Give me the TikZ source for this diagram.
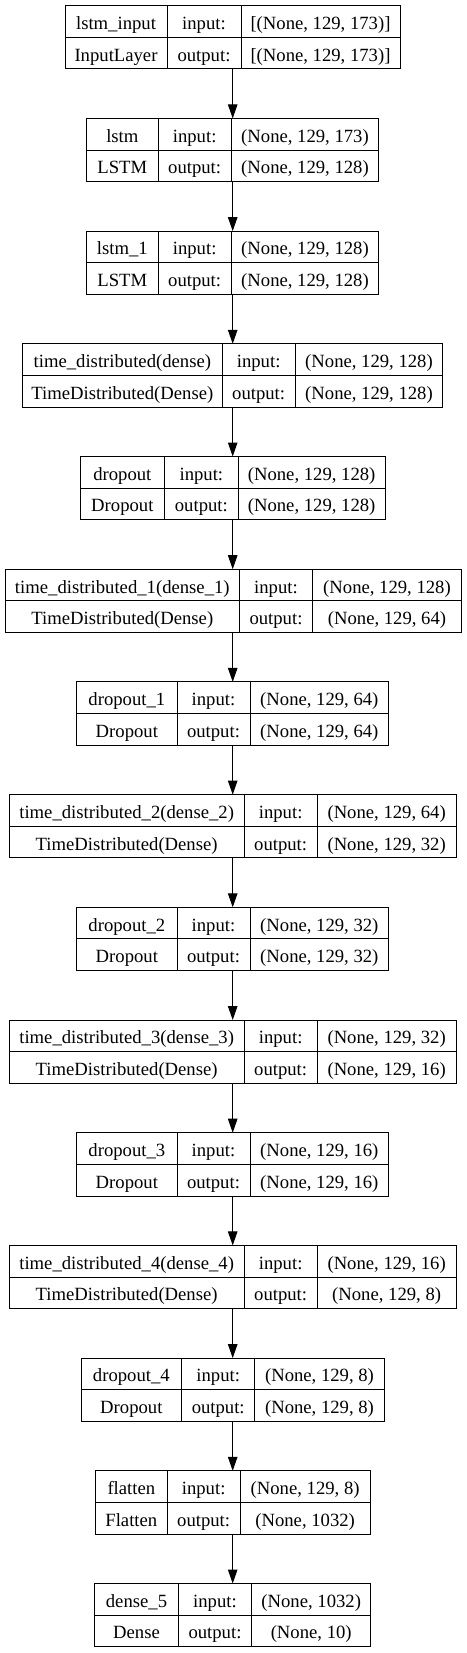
\documentclass[tikz,border=0pt]{standalone}
\usepackage{fontspec}
\setmainfont{Liberation Serif}
\usetikzlibrary{positioning, arrows.meta}

\begin{document}
\begin{tikzpicture}[
  x=1pt, y=-1pt,
  every node/.style={font=\fontsize{18.67}{22}\selectfont},
  cell/.style={draw, line width=1pt, inner sep=0pt, outer sep=0pt, minimum height=31.65pt, text height=16pt, text depth=0pt},
  whole/.style={inner sep=0pt, outer sep=0pt, minimum height=63.3pt},
  arr/.style={-{Triangle[length=14pt, width=9.5pt]}, line width=1pt}
]
\useasboundingbox (0,0) rectangle (466,1653);

% Layer boxes
\foreach \xa/\xb/\xc/\xd/\lname/\lclass/\sin/\sout [count=\i from 0] in {
  65/167/241/400/lstm\_input/InputLayer/{[(None, 129, 173)]}/{[(None, 129, 173)]},
  86.7/158/231.3/378.7/lstm/LSTM/{(None, 129, 173)}/{(None, 129, 128)},
  86.7/158/231.3/378.7/lstm\_1/LSTM/{(None, 129, 128)}/{(None, 129, 128)},
  22.7/222/295.3/442.7/time\_distributed(dense)/TimeDistributed(Dense)/{(None, 129, 128)}/{(None, 129, 128)},
  80/164.7/238/385.3/dropout/Dropout/{(None, 129, 128)}/{(None, 129, 128)},
  5.3/239.3/312.7/461.3/time\_distributed\_1(dense\_1)/TimeDistributed(Dense)/{(None, 129, 128)}/{(None, 129, 64)},
  76.7/177/250/388.7/dropout\_1/Dropout/{(None, 129, 64)}/{(None, 129, 64)},
  9.3/244/317.3/456/time\_distributed\_2(dense\_2)/TimeDistributed(Dense)/{(None, 129, 64)}/{(None, 129, 32)},
  76.7/177/250/388.7/dropout\_2/Dropout/{(None, 129, 32)}/{(None, 129, 32)},
  9.3/244/317.3/456/time\_distributed\_3(dense\_3)/TimeDistributed(Dense)/{(None, 129, 32)}/{(None, 129, 16)},
  76.7/177/250/388.7/dropout\_3/Dropout/{(None, 129, 16)}/{(None, 129, 16)},
  9.3/244/317.3/456/time\_distributed\_4(dense\_4)/TimeDistributed(Dense)/{(None, 129, 16)}/{(None, 129, 8)},
  81/181.7/254.7/384.3/dropout\_4/Dropout/{(None, 129, 8)}/{(None, 129, 8)},
  95.7/167/240.3/370/flatten/Flatten/{(None, 129, 8)}/{(None, 1032)},
  94.7/178.3/251.7/370.7/dense\_5/Dense/{(None, 1032)}/{(None, 10)}} {
  \pgfmathsetmacro\tp{5.7+112.7*\i}
  \node[whole, minimum width=\xd-\xa] (L\i) at (232.7,{\tp+31.65}) {};
  \node[cell, anchor=north west, minimum width=\xb-\xa] (L\i-name) at (\xa,\tp) {\lname};
  \node[cell, anchor=north west, minimum width=\xc-\xb] (L\i-inl) at (\xb,\tp) {input:};
  \node[cell, anchor=north west, minimum width=\xd-\xc] (L\i-in) at (\xc,\tp) {\sin};
  \node[cell, below=0pt of L\i-name, minimum width=\xb-\xa] (L\i-class) {\lclass};
  \node[cell, below=0pt of L\i-inl, minimum width=\xc-\xb] (L\i-outl) {output:};
  \node[cell, below=0pt of L\i-in, minimum width=\xd-\xc] (L\i-out) {\sout};
}

% Arrows between layers
\foreach \i [evaluate=\i as \j using int(\i+1)] in {0,...,13} {
  \draw[arr] (L\i.south) -- (L\j.north);
}

\end{tikzpicture}
\end{document}
